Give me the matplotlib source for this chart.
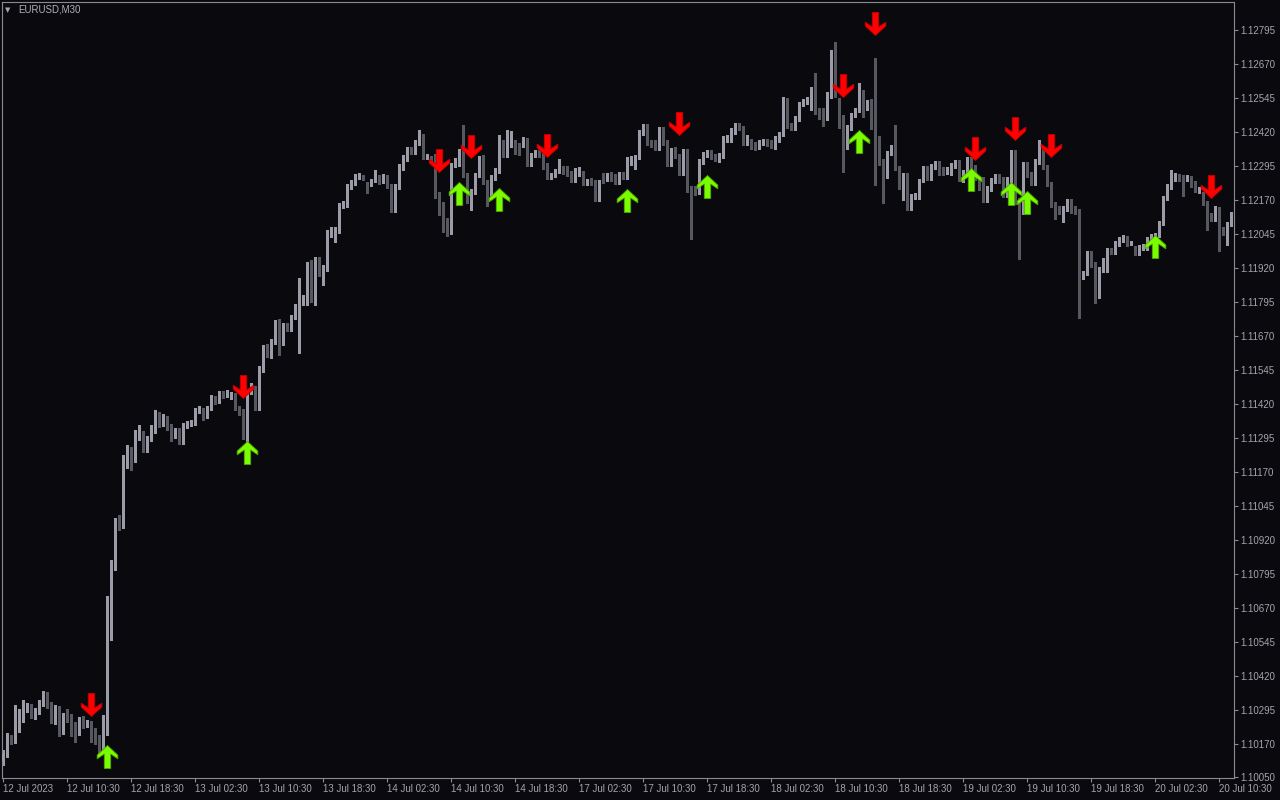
import numpy as np
import matplotlib
matplotlib.use("Agg")
import matplotlib.pyplot as plt
from matplotlib.path import Path

# ---------------- data (EURUSD M30 candles) ----------------
symbol_label = "EURUSD,M30"

opens = [
    1.10108, 1.10130, 1.10196, 1.10181, 1.10258, 1.10266, 1.10306, 1.10310, 1.10269, 1.10288,
    1.10317, 1.10358, 1.10313, 1.10255, 1.10302, 1.10214, 1.10273, 1.10262, 1.10233, 1.10210,
    1.10262, 1.10247, 1.10244, 1.10218, 1.10196, 1.10159, 1.10214, 1.10578, 1.10817, 1.10994,
    1.10975, 1.11203, 1.11247, 1.11214, 1.11299, 1.11317, 1.11251, 1.11291, 1.11324, 1.11380,
    1.11350, 1.11369, 1.11332, 1.11313, 1.11324, 1.11280, 1.11339, 1.11347, 1.11350, 1.11394,
    1.11398, 1.11376, 1.11405, 1.11442, 1.11431, 1.11460, 1.11453, 1.11449, 1.11453, 1.11405,
    1.11394, 1.11299, 1.11464, 1.11479, 1.11405, 1.11545, 1.11630, 1.11600, 1.11648, 1.11721,
    1.11644, 1.11710, 1.11696, 1.11740, 1.11777, 1.11791, 1.11791, 1.11938, 1.11802, 1.11953,
    1.11905, 1.11920, 1.12041, 1.12049, 1.12060, 1.12148, 1.12152, 1.12218, 1.12232, 1.12254,
    1.12254, 1.12229, 1.12229, 1.12240, 1.12254, 1.12240, 1.12254, 1.12225, 1.12133, 1.12218,
    1.12288, 1.12321, 1.12358, 1.12346, 1.12380, 1.12405, 1.12328, 1.12328, 1.12328, 1.12192,
    1.12155, 1.12096, 1.12071, 1.12299, 1.12306, 1.12354, 1.12262, 1.12170, 1.12199, 1.12262,
    1.12324, 1.12236, 1.12181, 1.12251, 1.12277, 1.12383, 1.12335, 1.12372, 1.12380, 1.12372,
    1.12372, 1.12391, 1.12302, 1.12335, 1.12346, 1.12335, 1.12299, 1.12254, 1.12262, 1.12277,
    1.12288, 1.12288, 1.12269, 1.12243, 1.12265, 1.12269, 1.12232, 1.12243, 1.12236, 1.12174,
    1.12262, 1.12247, 1.12265, 1.12258, 1.12236, 1.12265, 1.12254, 1.12306, 1.12291, 1.12328,
    1.12416, 1.12442, 1.12383, 1.12383, 1.12361, 1.12431, 1.12383, 1.12302, 1.12358, 1.12332,
    1.12269, 1.12350, 1.12214, 1.12214, 1.12199, 1.12310, 1.12335, 1.12346, 1.12332, 1.12317,
    1.12332, 1.12391, 1.12391, 1.12420, 1.12446, 1.12435, 1.12380, 1.12387, 1.12376, 1.12365,
    1.12380, 1.12387, 1.12383, 1.12365, 1.12391, 1.12413, 1.12538, 1.12446, 1.12435, 1.12468,
    1.12523, 1.12530, 1.12508, 1.12578, 1.12493, 1.12501, 1.12471, 1.12552, 1.12677, 1.12534,
    1.12475, 1.12365, 1.12435, 1.12482, 1.12501, 1.12567, 1.12508, 1.12530, 1.12479, 1.12398,
    1.12313, 1.12258, 1.12343, 1.12365, 1.12288, 1.12218, 1.12262, 1.12141, 1.12181, 1.12181,
    1.12243, 1.12288, 1.12251, 1.12291, 1.12306, 1.12284, 1.12273, 1.12269, 1.12295, 1.12310,
    1.12243, 1.12273, 1.12321, 1.12291, 1.12251, 1.12247, 1.12170, 1.12210, 1.12240, 1.12258,
    1.12247, 1.12188, 1.12243, 1.12346, 1.12170, 1.12126, 1.12302, 1.12265, 1.12232, 1.12310,
    1.12350, 1.12291, 1.12229, 1.12155, 1.12141, 1.12122, 1.12137, 1.12166, 1.12141, 1.12130,
    1.11887, 1.11902, 1.11975, 1.11935, 1.11817, 1.11913, 1.11913, 1.11986, 1.11979, 1.12008,
    1.12023, 1.12030, 1.12012, 1.11993, 1.11975, 1.11993, 1.11993, 1.12023, 1.12034, 1.12041,
    1.12085, 1.12177, 1.12218, 1.12247, 1.12254, 1.12254, 1.12247, 1.12251, 1.12232, 1.12203,
    1.12192, 1.12159, 1.12115, 1.12100, 1.12137, 1.12063, 1.12049, 1.12082,
]

highs = [
    1.10148, 1.10210, 1.10203, 1.10313, 1.10299, 1.10332, 1.10321, 1.10317, 1.10302, 1.10332,
    1.10365, 1.10361, 1.10324, 1.10313, 1.10310, 1.10284, 1.10299, 1.10280, 1.10251, 1.10269,
    1.10273, 1.10258, 1.10255, 1.10229, 1.10203, 1.10277, 1.10714, 1.10846, 1.11001, 1.11012,
    1.11233, 1.11269, 1.11262, 1.11324, 1.11343, 1.11321, 1.11302, 1.11343, 1.11398, 1.11391,
    1.11383, 1.11376, 1.11347, 1.11332, 1.11332, 1.11350, 1.11358, 1.11361, 1.11405, 1.11413,
    1.11405, 1.11413, 1.11453, 1.11449, 1.11468, 1.11468, 1.11471, 1.11464, 1.11460, 1.11413,
    1.11402, 1.11471, 1.11497, 1.11486, 1.11560, 1.11637, 1.11641, 1.11659, 1.11729, 1.11732,
    1.11718, 1.11718, 1.11747, 1.11788, 1.11883, 1.11821, 1.11942, 1.11949, 1.11960, 1.11960,
    1.11931, 1.12060, 1.12071, 1.12071, 1.12159, 1.12166, 1.12228, 1.12243, 1.12265, 1.12269,
    1.12262, 1.12236, 1.12247, 1.12280, 1.12262, 1.12265, 1.12262, 1.12229, 1.12229, 1.12302,
    1.12335, 1.12365, 1.12365, 1.12391, 1.12427, 1.12413, 1.12339, 1.12332, 1.12339, 1.12199,
    1.12163, 1.12104, 1.12306, 1.12324, 1.12358, 1.12446, 1.12269, 1.12210, 1.12269, 1.12332,
    1.12335, 1.12243, 1.12262, 1.12288, 1.12409, 1.12391, 1.12427, 1.12424, 1.12391, 1.12380,
    1.12402, 1.12398, 1.12343, 1.12354, 1.12354, 1.12343, 1.12306, 1.12269, 1.12284, 1.12321,
    1.12295, 1.12295, 1.12277, 1.12288, 1.12291, 1.12277, 1.12247, 1.12251, 1.12243, 1.12243,
    1.12269, 1.12269, 1.12273, 1.12265, 1.12273, 1.12273, 1.12328, 1.12332, 1.12335, 1.12427,
    1.12449, 1.12449, 1.12391, 1.12391, 1.12438, 1.12438, 1.12391, 1.12361, 1.12365, 1.12339,
    1.12358, 1.12358, 1.12221, 1.12221, 1.12321, 1.12346, 1.12354, 1.12354, 1.12339, 1.12343,
    1.12405, 1.12409, 1.12435, 1.12453, 1.12453, 1.12442, 1.12409, 1.12394, 1.12383, 1.12391,
    1.12394, 1.12394, 1.12391, 1.12405, 1.12420, 1.12549, 1.12545, 1.12453, 1.12479, 1.12530,
    1.12541, 1.12549, 1.12585, 1.12637, 1.12508, 1.12508, 1.12567, 1.12721, 1.12751, 1.12545,
    1.12482, 1.12446, 1.12490, 1.12508, 1.12600, 1.12574, 1.12538, 1.12541, 1.12692, 1.12405,
    1.12321, 1.12350, 1.12372, 1.12446, 1.12295, 1.12269, 1.12269, 1.12192, 1.12196, 1.12247,
    1.12295, 1.12295, 1.12302, 1.12313, 1.12313, 1.12291, 1.12291, 1.12306, 1.12317, 1.12317,
    1.12280, 1.12328, 1.12328, 1.12299, 1.12258, 1.12254, 1.12221, 1.12251, 1.12265, 1.12265,
    1.12254, 1.12254, 1.12354, 1.12354, 1.12177, 1.12310, 1.12310, 1.12273, 1.12321, 1.12391,
    1.12358, 1.12299, 1.12236, 1.12163, 1.12148, 1.12148, 1.12174, 1.12174, 1.12148, 1.12137,
    1.11909, 1.11982, 1.11982, 1.11942, 1.11924, 1.11957, 1.11993, 1.11993, 1.12019, 1.12034,
    1.12041, 1.12038, 1.12019, 1.12001, 1.12005, 1.12008, 1.12034, 1.12045, 1.12049, 1.12093,
    1.12185, 1.12229, 1.12280, 1.12269, 1.12265, 1.12262, 1.12262, 1.12258, 1.12240, 1.12218,
    1.12199, 1.12166, 1.12122, 1.12148, 1.12144, 1.12071, 1.12089, 1.12126,
]

lows = [
    1.10093, 1.10122, 1.10170, 1.10174, 1.10214, 1.10251, 1.10288, 1.10266, 1.10262, 1.10280,
    1.10310, 1.10302, 1.10247, 1.10244, 1.10199, 1.10207, 1.10251, 1.10199, 1.10177, 1.10203,
    1.10229, 1.10233, 1.10177, 1.10170, 1.10130, 1.10148, 1.10203, 1.10552, 1.10810, 1.10957,
    1.10964, 1.11185, 1.11177, 1.11207, 1.11288, 1.11244, 1.11244, 1.11284, 1.11313, 1.11335,
    1.11339, 1.11324, 1.11284, 1.11295, 1.11273, 1.11273, 1.11332, 1.11339, 1.11343, 1.11387,
    1.11361, 1.11369, 1.11398, 1.11420, 1.11424, 1.11442, 1.11446, 1.11438, 1.11398, 1.11380,
    1.11291, 1.11284, 1.11457, 1.11398, 1.11398, 1.11538, 1.11593, 1.11589, 1.11641, 1.11600,
    1.11637, 1.11688, 1.11688, 1.11732, 1.11608, 1.11784, 1.11784, 1.11795, 1.11784, 1.11890,
    1.11858, 1.11909, 1.12034, 1.12016, 1.12049, 1.12141, 1.12144, 1.12210, 1.12225, 1.12247,
    1.12243, 1.12196, 1.12221, 1.12236, 1.12229, 1.12232, 1.12214, 1.12126, 1.12126, 1.12210,
    1.12280, 1.12313, 1.12339, 1.12339, 1.12372, 1.12320, 1.12321, 1.12310, 1.12177, 1.12115,
    1.12052, 1.12038, 1.12045, 1.12291, 1.12295, 1.12254, 1.12159, 1.12133, 1.12192, 1.12254,
    1.12229, 1.12148, 1.12174, 1.12243, 1.12269, 1.12328, 1.12328, 1.12365, 1.12339, 1.12335,
    1.12365, 1.12295, 1.12295, 1.12328, 1.12328, 1.12284, 1.12247, 1.12247, 1.12254, 1.12269,
    1.12265, 1.12258, 1.12236, 1.12236, 1.12258, 1.12225, 1.12225, 1.12225, 1.12166, 1.12166,
    1.12232, 1.12240, 1.12240, 1.12229, 1.12229, 1.12247, 1.12247, 1.12299, 1.12284, 1.12321,
    1.12409, 1.12372, 1.12365, 1.12354, 1.12354, 1.12372, 1.12295, 1.12295, 1.12324, 1.12262,
    1.12262, 1.12199, 1.12027, 1.12188, 1.12192, 1.12302, 1.12328, 1.12321, 1.12313, 1.12310,
    1.12324, 1.12383, 1.12383, 1.12413, 1.12427, 1.12372, 1.12372, 1.12358, 1.12354, 1.12358,
    1.12372, 1.12369, 1.12361, 1.12358, 1.12383, 1.12405, 1.12435, 1.12427, 1.12427, 1.12460,
    1.12516, 1.12523, 1.12501, 1.12486, 1.12468, 1.12442, 1.12464, 1.12545, 1.12549, 1.12435,
    1.12273, 1.12358, 1.12427, 1.12475, 1.12493, 1.12475, 1.12501, 1.12430, 1.12225, 1.12299,
    1.12159, 1.12251, 1.12335, 1.12280, 1.12210, 1.12170, 1.12133, 1.12133, 1.12174, 1.12174,
    1.12236, 1.12243, 1.12243, 1.12284, 1.12262, 1.12262, 1.12265, 1.12262, 1.12288, 1.12240,
    1.12236, 1.12265, 1.12284, 1.12243, 1.12207, 1.12163, 1.12163, 1.12203, 1.12232, 1.12232,
    1.12181, 1.12181, 1.12236, 1.12155, 1.11953, 1.12119, 1.12254, 1.12225, 1.12225, 1.12302,
    1.12284, 1.12221, 1.12144, 1.12100, 1.12119, 1.12089, 1.12130, 1.12122, 1.12119, 1.11736,
    1.11880, 1.11894, 1.11924, 1.11791, 1.11810, 1.11905, 1.11905, 1.11971, 1.11971, 1.12001,
    1.12016, 1.12001, 1.12005, 1.11968, 1.11968, 1.11986, 1.11986, 1.12016, 1.12027, 1.12034,
    1.12078, 1.12170, 1.12210, 1.12240, 1.12240, 1.12185, 1.12240, 1.12218, 1.12199, 1.12196,
    1.12152, 1.12060, 1.12093, 1.12093, 1.11982, 1.12041, 1.12005, 1.12074,
]

closes = [
    1.10133, 1.10196, 1.10181, 1.10258, 1.10266, 1.10306, 1.10310, 1.10269, 1.10291, 1.10321,
    1.10358, 1.10313, 1.10255, 1.10302, 1.10214, 1.10273, 1.10262, 1.10233, 1.10210, 1.10262,
    1.10240, 1.10247, 1.10210, 1.10188, 1.10141, 1.10221, 1.10578, 1.10817, 1.10975, 1.10975,
    1.11203, 1.11247, 1.11214, 1.11299, 1.11317, 1.11251, 1.11291, 1.11324, 1.11380, 1.11350,
    1.11369, 1.11332, 1.11299, 1.11321, 1.11280, 1.11343, 1.11350, 1.11354, 1.11398, 1.11402,
    1.11372, 1.11405, 1.11446, 1.11427, 1.11460, 1.11449, 1.11460, 1.11457, 1.11405, 1.11387,
    1.11302, 1.11464, 1.11479, 1.11405, 1.11552, 1.11630, 1.11600, 1.11648, 1.11721, 1.11644,
    1.11710, 1.11696, 1.11740, 1.11780, 1.11791, 1.11813, 1.11938, 1.11802, 1.11953, 1.11905,
    1.11924, 1.12049, 1.12052, 1.12060, 1.12152, 1.12155, 1.12221, 1.12232, 1.12258, 1.12258,
    1.12251, 1.12203, 1.12240, 1.12251, 1.12236, 1.12258, 1.12221, 1.12133, 1.12221, 1.12291,
    1.12328, 1.12358, 1.12346, 1.12383, 1.12409, 1.12328, 1.12328, 1.12317, 1.12185, 1.12152,
    1.12093, 1.12071, 1.12299, 1.12306, 1.12350, 1.12262, 1.12170, 1.12199, 1.12262, 1.12324,
    1.12236, 1.12181, 1.12254, 1.12277, 1.12383, 1.12335, 1.12413, 1.12413, 1.12346, 1.12343,
    1.12391, 1.12302, 1.12335, 1.12346, 1.12335, 1.12291, 1.12254, 1.12262, 1.12277, 1.12313,
    1.12273, 1.12265, 1.12243, 1.12280, 1.12284, 1.12232, 1.12240, 1.12232, 1.12174, 1.12236,
    1.12240, 1.12262, 1.12247, 1.12236, 1.12265, 1.12254, 1.12321, 1.12321, 1.12328, 1.12420,
    1.12442, 1.12380, 1.12372, 1.12361, 1.12431, 1.12380, 1.12302, 1.12354, 1.12332, 1.12269,
    1.12350, 1.12207, 1.12207, 1.12199, 1.12313, 1.12339, 1.12346, 1.12328, 1.12321, 1.12335,
    1.12398, 1.12402, 1.12427, 1.12446, 1.12435, 1.12380, 1.12402, 1.12365, 1.12361, 1.12383,
    1.12387, 1.12376, 1.12369, 1.12398, 1.12413, 1.12541, 1.12442, 1.12435, 1.12471, 1.12523,
    1.12534, 1.12541, 1.12574, 1.12493, 1.12479, 1.12471, 1.12556, 1.12674, 1.12556, 1.12471,
    1.12365, 1.12438, 1.12482, 1.12501, 1.12567, 1.12508, 1.12530, 1.12475, 1.12387, 1.12306,
    1.12258, 1.12343, 1.12365, 1.12288, 1.12218, 1.12262, 1.12144, 1.12185, 1.12188, 1.12240,
    1.12288, 1.12251, 1.12295, 1.12306, 1.12269, 1.12269, 1.12284, 1.12299, 1.12310, 1.12247,
    1.12273, 1.12321, 1.12291, 1.12251, 1.12214, 1.12170, 1.12214, 1.12243, 1.12258, 1.12240,
    1.12188, 1.12247, 1.12346, 1.12163, 1.12126, 1.12302, 1.12262, 1.12232, 1.12313, 1.12380,
    1.12291, 1.12229, 1.12152, 1.12126, 1.12126, 1.12141, 1.12166, 1.12130, 1.12126, 1.11887,
    1.11902, 1.11975, 1.11931, 1.11817, 1.11916, 1.11949, 1.11986, 1.11979, 1.12012, 1.12027,
    1.12034, 1.12008, 1.12012, 1.11975, 1.11997, 1.12001, 1.12027, 1.12038, 1.12041, 1.12085,
    1.12177, 1.12221, 1.12251, 1.12254, 1.12247, 1.12247, 1.12254, 1.12225, 1.12207, 1.12210,
    1.12159, 1.12115, 1.12100, 1.12141, 1.12063, 1.12049, 1.12082, 1.12100,
]

# indicator signals: bar index and price level of the arrow tip
sell_bars = [22, 60, 109, 117, 136, 169, 210, 218, 243, 253, 262, 302]
sell_prices = [1.10273, 1.11442, 1.12273, 1.12324, 1.12328, 1.12409,
               1.12549, 1.12777, 1.12317, 1.12391, 1.12328, 1.12177]
buy_bars = [26, 61, 114, 124, 156, 176, 214, 242, 252, 256, 288]
buy_prices = [1.10166, 1.11284, 1.12236, 1.12214, 1.12210, 1.12262,
              1.12427, 1.12288, 1.12236, 1.12203, 1.12041]

time_tick_bars = [0, 16, 32, 48, 64, 80, 96, 112, 128, 144,
                  160, 176, 192, 208, 224, 240, 256, 272, 288, 304]
time_tick_labels = ["12 Jul 2023", "12 Jul 10:30", "12 Jul 18:30", "13 Jul 02:30",
                    "13 Jul 10:30", "13 Jul 18:30", "14 Jul 02:30", "14 Jul 10:30",
                    "14 Jul 18:30", "17 Jul 02:30", "17 Jul 10:30", "17 Jul 18:30",
                    "18 Jul 02:30", "18 Jul 10:30", "18 Jul 18:30", "19 Jul 02:30",
                    "19 Jul 10:30", "19 Jul 18:30", "20 Jul 02:30", "20 Jul 10:30"]
price_ticks = [1.10050, 1.10170, 1.10295, 1.10420, 1.10545, 1.10670, 1.10795, 1.10920,
               1.11045, 1.11170, 1.11295, 1.11420, 1.11545, 1.11670, 1.11795, 1.11920,
               1.12045, 1.12170, 1.12295, 1.12420, 1.12545, 1.12670, 1.12795]
price_range = (1.10045, 1.12898)

# ---------------- style ----------------
BG = "#0a0a0e"
BULL = "#9c9ca8"
BEAR = "#57575f"
FRAME = "#8a8a92"
TEXT = "#a4a4ae"
plt.rcParams['font.family'] = ['Liberation Sans', 'DejaVu Sans']

o = np.array(opens)
h = np.array(highs)
l = np.array(lows)
c = np.array(closes)
x = np.arange(len(c))
up = c >= o
cols = np.where(up, BULL, BEAR)

fig = plt.figure(figsize=(12.8, 8), dpi=100, facecolor=BG)
ax = fig.add_axes([2 / 1280, 22 / 800, 1232 / 1280, 776 / 800])
ax.set_facecolor(BG)

# wicks
ax.vlines(x, l, h, colors=cols, linewidth=0.75, antialiased=False, zorder=2)
# bodies
body_bottom = np.minimum(o, c)
body_height = np.maximum(np.abs(c - o), 0.00003)
ax.bar(x, body_height, bottom=body_bottom, width=0.75, color=cols,
       linewidth=0, antialiased=False, zorder=3)

# arrow markers (tip at the origin)
up_arrow = Path([(0, 0), (0.45, -0.42), (0.45, -0.58), (0.14, -0.37), (0.14, -1.0),
                 (-0.14, -1.0), (-0.14, -0.37), (-0.45, -0.58), (-0.45, -0.42), (0, 0)],
                [Path.MOVETO] + [Path.LINETO] * 8 + [Path.CLOSEPOLY])
down_arrow = Path([(vx, -vy) for vx, vy in up_arrow.vertices], up_arrow.codes)

ax.plot(sell_bars, sell_prices, linestyle='none', marker=down_arrow, markersize=33,
        markerfacecolor='#ff0000', markeredgecolor='#c80000', markeredgewidth=0.6, zorder=5)
ax.plot(buy_bars, buy_prices, linestyle='none', marker=up_arrow, markersize=33,
        markerfacecolor='#7cfc00', markeredgecolor='#4caa00', markeredgewidth=0.6, zorder=5)

ax.set_xlim(-0.25, len(c) - 0.25)
ax.set_ylim(*price_range)

for s in ax.spines.values():
    s.set_color(FRAME)
    s.set_linewidth(0.8)

ax.yaxis.tick_right()
ax.set_yticks(price_ticks)
ax.set_yticklabels([f"{p:.5f}" for p in price_ticks])
ax.tick_params(axis='y', colors=FRAME, labelcolor=TEXT, labelsize=7,
               length=3, width=0.8, pad=1.5, direction='out')
ax.set_xticks(time_tick_bars)
ax.set_xticklabels(time_tick_labels)
ax.tick_params(axis='x', colors=FRAME, labelcolor=TEXT, labelsize=7,
               length=3, width=0.8, pad=1.5, direction='out')
for lab in ax.get_xticklabels():
    lab.set_ha('left')

fig.text(8 / 1280, 1 - 10 / 800, "\u25BC", color=TEXT, fontsize=5, ha='center', va='center',
         family=['DejaVu Sans'])
fig.text(18 / 1280, 1 - 10 / 800, symbol_label, color="#b0b0ba", fontsize=7,
         ha='left', va='center')

fig.savefig("out.png", dpi=100, facecolor=BG)
